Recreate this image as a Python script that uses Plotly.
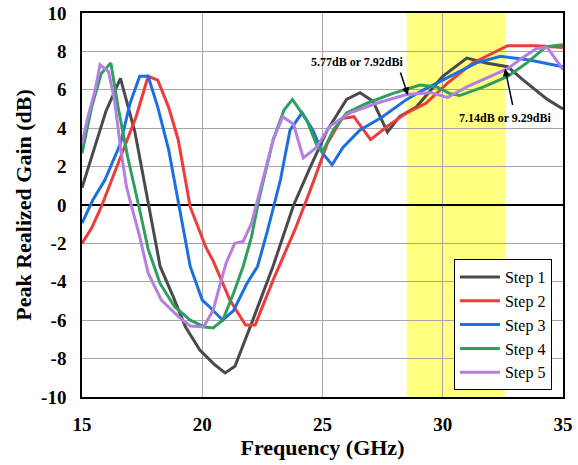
import plotly.graph_objects as go

# ---- data ----
step1_x = [15, 15.5, 16.0, 16.6, 17.2, 17.8, 18.25, 18.8, 19.3, 19.9, 20.5, 20.95, 21.36, 22.07, 22.94, 23.8, 24.5, 25.2, 26.0, 26.56, 27.1, 27.7, 28.2, 28.9, 30.0, 31.0, 31.8, 32.7, 33.35, 34.35, 35]
step1_y = [0.9, 2.9, 4.9, 6.6, 3.8, -0.2, -3.2, -4.8, -6.35, -7.55, -8.3, -8.75, -8.4, -6.1, -3.2, 0.0, 2.0, 3.9, 5.5, 5.85, 5.4, 3.8, 4.6, 5.1, 6.7, 7.65, 7.4, 7.2, 6.5, 5.5, 5.0]

step2_x = [15, 15.4, 15.8, 16.6, 17.25, 17.75, 18.15, 18.6, 19.0, 19.5, 20.15, 20.45, 21.15, 21.8, 22.2, 22.95, 23.85, 24.5, 25.2, 25.8, 26.3, 27.0, 27.7, 28.5, 29.3, 30.2, 31.25, 32.7, 33.9, 35]
step2_y = [-2.0, -1.2, -0.1, 2.5, 4.6, 6.7, 6.5, 5.1, 3.4, -0.1, -2.2, -2.9, -4.95, -6.25, -6.25, -3.9, -1.3, 0.8, 3.2, 4.5, 4.6, 3.4, 4.1, 4.8, 5.3, 6.35, 7.4, 8.3, 8.3, 8.2]

step3_x = [15, 15.45, 15.95, 16.6, 17.0, 17.4, 17.75, 18.15, 18.6, 19.0, 19.5, 20.0, 20.3, 20.85, 21.3, 21.85, 22.3, 22.7, 23.25, 23.65, 24.15, 24.6, 25.0, 25.4, 25.85, 26.55, 27.5, 28.5, 29.2, 30.3, 31.4, 32.4, 33.6, 35]
step3_y = [-0.95, 0.26, 1.3, 3.2, 5.3, 6.7, 6.7, 5.1, 2.9, 0.26, -3.2, -4.95, -5.3, -6.0, -5.5, -4.1, -3.2, -1.4, 1.3, 3.9, 4.8, 3.9, 2.7, 2.1, 3.0, 3.9, 4.6, 5.5, 6.0, 6.7, 7.4, 7.75, 7.55, 7.2]

step4_x = [15, 15.4, 15.8, 16.2, 16.5, 16.9, 17.4, 17.75, 18.25, 18.85, 19.5, 20.1, 20.45, 20.85, 21.3, 21.7, 22.05, 22.35, 22.95, 23.4, 23.75, 24.35, 24.8, 25.0, 25.45, 26.0, 26.85, 27.9, 29.05, 29.75, 30.3, 30.7, 31.7, 32.7, 33.5, 34.3, 35]
step4_y = [2.7, 5.1, 6.85, 7.4, 5.1, 2.5, -0.26, -2.3, -4.1, -5.3, -6.0, -6.35, -6.4, -6.0, -4.6, -3.2, -1.65, 0.26, 3.4, 4.95, 5.5, 4.4, 3.0, 2.75, 3.9, 4.8, 5.3, 5.8, 6.25, 6.15, 5.8, 5.7, 6.15, 6.7, 7.4, 8.25, 8.35]

step5_x = [15, 15.25, 15.55, 15.75, 16.1, 16.35, 16.6, 16.85, 17.1, 17.4, 17.75, 18.3, 19.0, 19.5, 20.05, 20.45, 20.75, 21.0, 21.35, 21.7, 22.05, 22.4, 22.95, 23.35, 23.8, 24.2, 24.75, 25.3, 26.15, 27.25, 28.5, 29.5, 30.2, 31.0, 32.0, 32.7, 33.35, 33.9, 34.35, 35]
step5_y = [3.2, 4.6, 6.0, 7.3, 6.95, 5.5, 3.0, 0.94, -0.26, -1.65, -3.55, -4.95, -5.8, -6.3, -6.35, -5.5, -4.1, -3.0, -2.0, -1.9, -0.95, 0.8, 3.4, 4.6, 4.2, 2.45, 3.0, 4.1, 4.8, 5.3, 5.75, 5.85, 5.6, 6.15, 6.7, 7.1, 7.7, 8.15, 8.2, 7.05]

series_names = ["Step 1", "Step 2", "Step 3", "Step 4", "Step 5"]
series_x = [step1_x, step2_x, step3_x, step4_x, step5_x]
series_y = [step1_y, step2_y, step3_y, step4_y, step5_y]
colors = ["#4a4a4a", "#ee3b3b", "#1b6fe0", "#2f9e5f", "#b47fe0"]

band = [28.5, 32.6]
x_ticks = [15, 20, 25, 30, 35]
y_ticks = [-10, -8, -6, -4, -2, 0, 2, 4, 6, 8, 10]

ann1_text = "5.77dB or 7.92dBi"
ann1_pos = (26.45, 7.45)
ann1_tail = (28.22, 6.98)
ann1_head = (28.55, 5.73)
ann2_text = "7.14dB or 9.29dBi"
ann2_pos = (30.6, 4.55)
ann2_tail = (32.92, 5.13)
ann2_head = (32.59, 7.1)

serif = "Liberation Serif"

fig = go.Figure()
for name, xs, ys, c in zip(series_names, series_x, series_y, colors):
    fig.add_trace(go.Scatter(x=xs, y=ys, mode="lines", name=name,
                             line=dict(color=c, width=3)))

fig.add_shape(type="rect", xref="x", yref="paper", x0=band[0], x1=band[1], y0=0, y1=1,
              fillcolor="#ffff80", line=dict(width=0), layer="below")

fig.add_annotation(x=ann1_pos[0], y=ann1_pos[1], text="<b>" + ann1_text + "</b>", showarrow=False,
                   font=dict(family=serif, size=12, color="black"))
fig.add_annotation(x=ann2_pos[0], y=ann2_pos[1], text="<b>" + ann2_text + "</b>", showarrow=False,
                   xanchor="left",
                   font=dict(family=serif, size=12, color="black"))
for tail, head in [(ann1_tail, ann1_head), (ann2_tail, ann2_head)]:
    fig.add_annotation(x=head[0], y=head[1], ax=tail[0], ay=tail[1],
                       xref="x", yref="y", axref="x", ayref="y", text="",
                       showarrow=True, arrowhead=2, arrowsize=1, arrowwidth=1.5,
                       arrowcolor="black")

fig.update_layout(
    width=578, height=465,
    margin=dict(l=82, r=15, t=13, b=68, autoexpand=False),
    paper_bgcolor="white", plot_bgcolor="white",
    font=dict(family=serif, color="black"),
    legend=dict(x=0.977, y=0.018, xanchor="right", yanchor="bottom",
                bgcolor="white", bordercolor="black", borderwidth=1,
                font=dict(family=serif, size=16, color="black"),
                tracegroupgap=0, itemwidth=40),
    showlegend=True,
)
fig.update_xaxes(range=[15, 35], tickvals=x_ticks, ticktext=["<b>%d</b>" % v for v in x_ticks],
                 showgrid=True, gridcolor="#a6a6a6", automargin=False,
                 gridwidth=1, showline=True, linecolor="black", linewidth=1.5, mirror=True,
                 ticks="", zeroline=False, ticklabelstandoff=9,
                 tickfont=dict(family=serif, size=19, color="black"),
                 title=dict(text="<b>Frequency (GHz)</b>", standoff=4,
                            font=dict(family=serif, size=22, color="black")))
fig.update_yaxes(range=[-10, 10], tickvals=y_ticks, ticktext=["<b>%d</b>" % v for v in y_ticks],
                 showgrid=True, gridcolor="#a6a6a6", automargin=False,
                 gridwidth=1, showline=True, linecolor="black", linewidth=1.5, mirror=True,
                 ticks="", zeroline=True, zerolinecolor="black", zerolinewidth=1.5,
                 ticklabelstandoff=10,
                 tickfont=dict(family=serif, size=19, color="black"),
                 title=dict(text="<b>Peak Realized Gain (dB)</b>", standoff=3,
                            font=dict(family=serif, size=22, color="black")))

fig.write_html("out.html")
